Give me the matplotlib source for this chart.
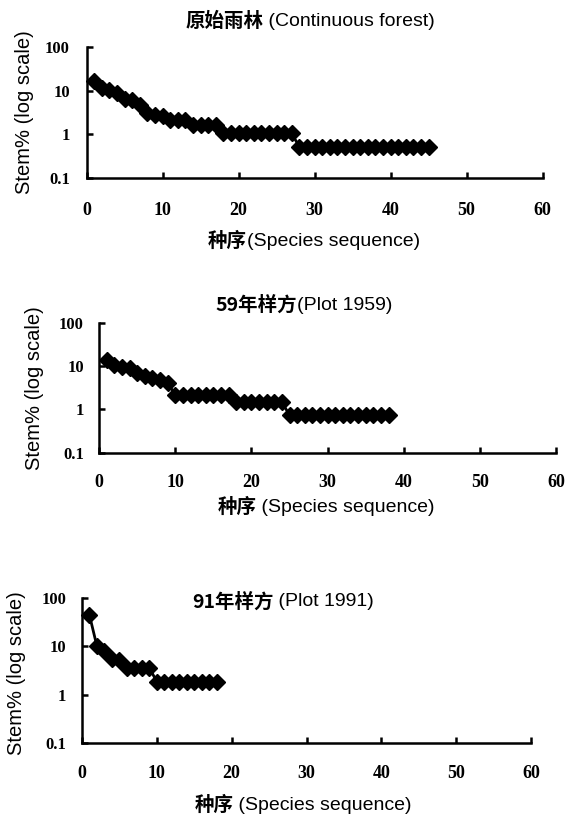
import matplotlib
matplotlib.use("Agg")
import matplotlib.pyplot as plt
from matplotlib.transforms import IdentityTransform
from matplotlib.ticker import FixedLocator, FixedFormatter, NullLocator

# ---------------- data ----------------
forest_stem = [17, 11.3, 10.4, 8.7, 6.5, 6.2, 4.7, 3.0, 2.8, 2.6,
               2.1, 2.1, 2.1, 1.6, 1.6, 1.6, 1.6,
               1.05, 1.05, 1.05, 1.05, 1.05, 1.05, 1.05, 1.05, 1.05, 1.05,
               0.52, 0.52, 0.52, 0.52, 0.52, 0.52, 0.52, 0.52, 0.52,
               0.52, 0.52, 0.52, 0.52, 0.52, 0.52, 0.52, 0.52, 0.52]
plot1959_stem = [14, 10.5, 9.7, 8.8, 6.8, 5.9, 5.2, 4.7, 4.1,
                 2.15, 2.15, 2.15, 2.15, 2.15, 2.15, 2.15, 2.15,
                 1.45, 1.45, 1.45, 1.45, 1.45, 1.45, 1.45,
                 0.74, 0.74, 0.74, 0.74, 0.74, 0.74, 0.74, 0.74, 0.74,
                 0.74, 0.74, 0.74, 0.74, 0.74]
plot1991_stem = [44, 10, 8.0, 5.5, 5.2, 3.6, 3.6, 3.6, 3.6,
                 1.85, 1.85, 1.85, 1.85, 1.85, 1.85, 1.85, 1.85, 1.85]

# titles split into (Chinese part, Latin part)
titles = [("原始雨林", " (Continuous forest)"),
          ("59年样方", "(Plot 1959)"),
          ("91年样方", " (Plot 1991)")]
xlabels = [("种序", "(Species sequence)"),
           ("种序", " (Species sequence)"),
           ("种序", " (Species sequence)")]
ylabel = "Stem% (log scale)"
x_ticks = [0, 10, 20, 30, 40, 50, 60]
x_ticklabels = ["0", "10", "20", "30", "40", "50", "60"]
y_ticks = [0.1, 1, 10, 100]
y_ticklabels = ["0.1", "1", "10", "100"]

series = [forest_stem, plot1959_stem, plot1991_stem]

W, H = 572, 818
fig = plt.figure(figsize=(W / 100, H / 100), dpi=100)
renderer = fig.canvas.get_renderer()

# axes boxes in pixels: left, right, top, bottom
boxes = [(86.5, 542.5, 47, 178), (99.2, 556, 322.7, 452.7), (82, 531, 598, 743)]
title_pos = [(310, 21), (304, 305), (283, 602)]
xlabel_pos = [(314, 241), (326, 507), (303, 805)]
ylabel_pos = [(25, 112), (35, 388), (17, 673)]
xpad = [17.5, 15.5, 16]
ypad = [12, 11, 11.5]

latin = ["Liberation Sans", "DejaVu Sans"]
cjk = ["Noto Sans CJK SC", "DejaVu Sans"]
serif = ["Liberation Serif", "DejaVu Serif"]


def mixed_text(cx, cy, zh, en, size):
    """Chinese part bold + Latin part regular, centred at pixel (cx, cy)."""
    tr = IdentityTransform()
    t1 = fig.text(0, 0, zh, fontsize=size, fontweight="bold", family=cjk,
                  ha="left", va="center", transform=tr)
    t2 = fig.text(0, 0, en, fontsize=size, fontweight="normal", family=latin,
                  ha="left", va="center", transform=tr)
    w1 = t1.get_window_extent(renderer).width
    w2 = t2.get_window_extent(renderer).width
    x0 = cx - (w1 + w2) / 2
    y = H - cy
    t1.set_position((x0, y))
    t2.set_position((x0 + w1, y))


for i, vals in enumerate(series):
    l, r, t, b = boxes[i]
    ax = fig.add_axes([l / W, 1 - b / H, (r - l) / W, (b - t) / H])
    xs = list(range(1, len(vals) + 1))
    ax.plot(xs, vals, color="black", lw=2, marker="D", ms=8,
            markerfacecolor="black", markeredgecolor="black", clip_on=False)
    ax.set_yscale("log")
    ax.set_xlim(0, 60)
    ax.set_ylim(0.1, 100)
    for s in ["top", "right"]:
        ax.spines[s].set_visible(False)
    for s in ["left", "bottom"]:
        ax.spines[s].set_linewidth(1.8)
    ax.xaxis.set_major_locator(FixedLocator(x_ticks))
    ax.xaxis.set_major_formatter(FixedFormatter(x_ticklabels))
    ax.yaxis.set_major_locator(FixedLocator(y_ticks))
    ax.yaxis.set_major_formatter(FixedFormatter(y_ticklabels))
    ax.yaxis.set_minor_locator(NullLocator())
    ax.tick_params(axis="both", direction="in", length=4, width=1.8)
    ax.tick_params(axis="x", pad=xpad[i])
    ax.tick_params(axis="y", pad=ypad[i])
    for lab in ax.get_xticklabels():
        lab.set_fontfamily(serif)
        lab.set_fontsize(13)
        lab.set_fontweight("bold")
    for lab in ax.get_yticklabels():
        lab.set_fontfamily(serif)
        lab.set_fontsize(12)
        lab.set_fontweight("bold")
    ax.patch.set_visible(False)

    tx, ty = title_pos[i]
    mixed_text(tx, ty, titles[i][0], titles[i][1], 14)
    lx, ly = xlabel_pos[i]
    mixed_text(lx, ly, xlabels[i][0], xlabels[i][1], 14)
    yx, yy = ylabel_pos[i]
    fig.text(yx / W, 1 - yy / H, ylabel, ha="center", va="center",
             rotation=90, fontsize=14.5, family=latin)

fig.savefig("out.png", dpi=100)
